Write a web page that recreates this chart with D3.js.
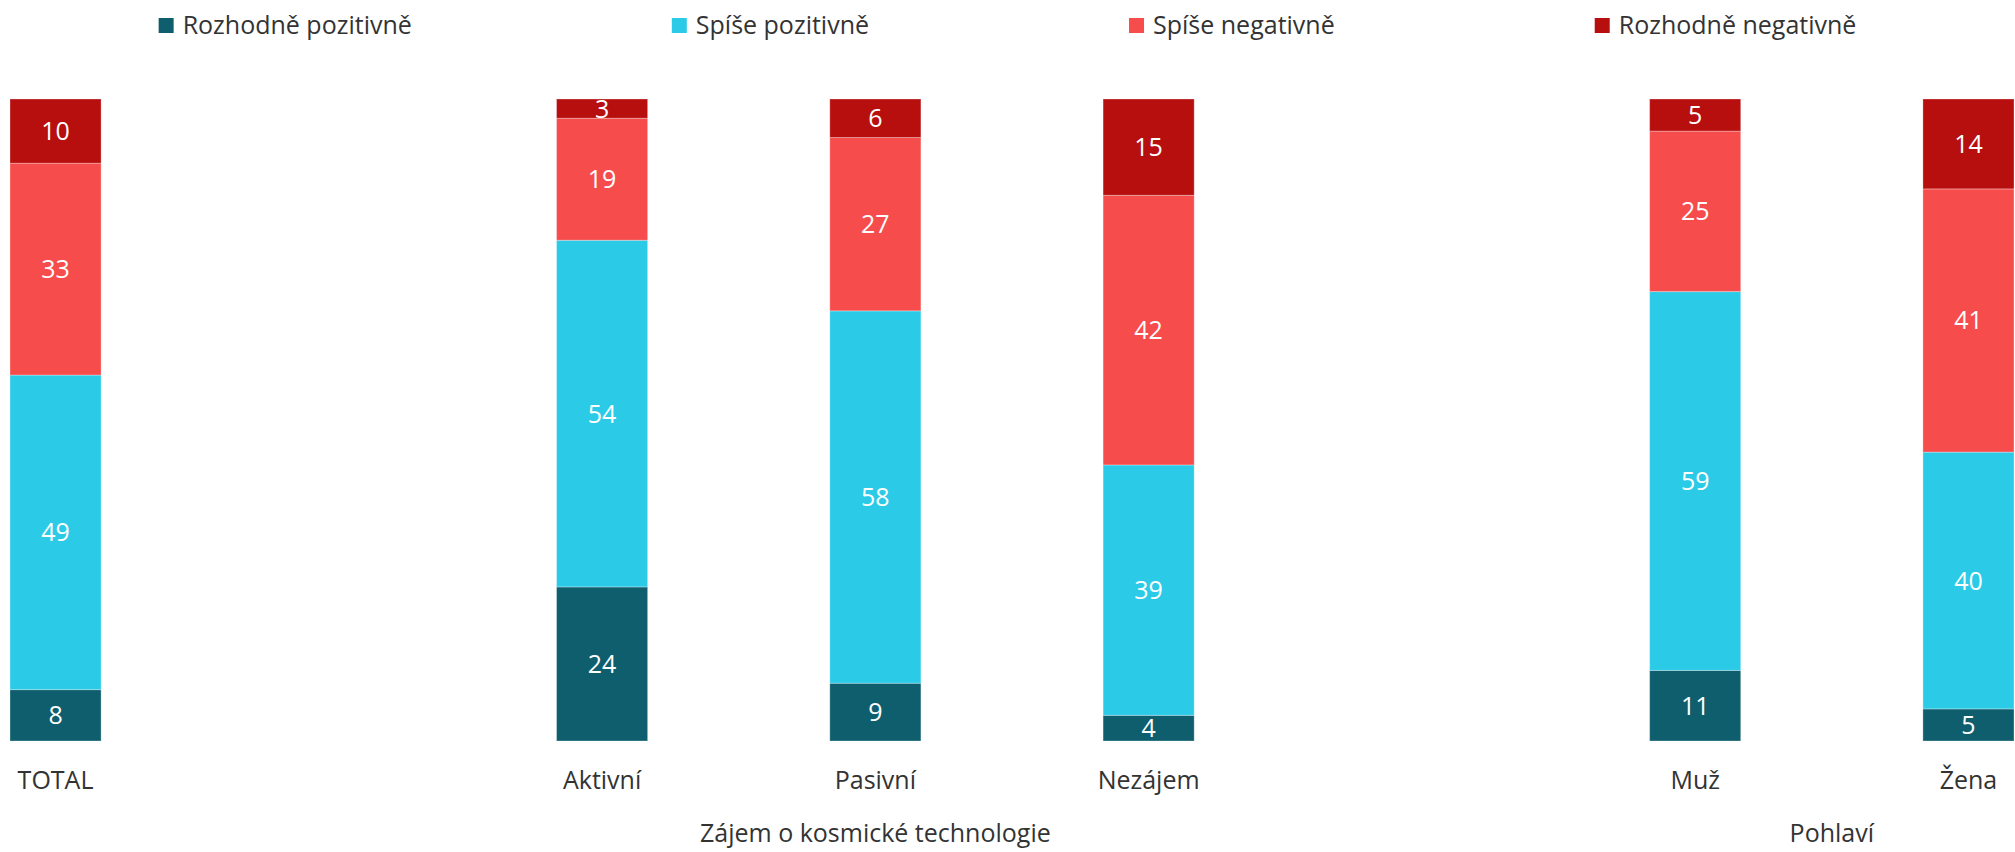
<!DOCTYPE html>
<html>
<head>
<meta charset="utf-8">
<script src="https://cdn.jsdelivr.net/npm/d3@7"></script>
<style>
  body { margin: 0; background: #fff; }
  text { font-family: "Open Sans", "Noto Sans", sans-serif; }
</style>
</head>
<body>
<div id="chart"></div>
<script>
// slots along the x axis, the gap entries are spacers between groups
const slots = ["TOTAL", "gap1", "Aktivní", "Pasivní", "Nezájem", "gap2", "Muž", "Žena"];
const categories = ["TOTAL", "Aktivní", "Pasivní", "Nezájem", "Muž", "Žena"];

const seriesNames = ["Rozhodně pozitivně", "Spíše pozitivně", "Spíše negativně", "Rozhodně negativně"];
const seriesColors = ["#0e5e6e", "#2bcbe8", "#f74c4c", "#b70e0e"];

const rozhodnePozitivne = [8, 24, 9, 4, 11, 5];
const spisePozitivne = [49, 54, 58, 39, 59, 40];
const spiseNegativne = [33, 19, 27, 42, 25, 41];
const rozhodneNegativne = [10, 3, 6, 15, 5, 14];

const groups = [
  { label: "Zájem o kosmické technologie", members: ["Aktivní", "Pasivní", "Nezájem"] },
  { label: "Pohlaví", members: ["Muž", "Žena"] },
];

const size = { width: 2015, height: 852 };
const fontSize = 25;

const svg = d3.select("#chart").append("svg")
  .attr("width", size.width)
  .attr("height", size.height);

const rows = categories.map((c, i) => ({
  cat: c,
  "Rozhodně pozitivně": rozhodnePozitivne[i],
  "Spíše pozitivně": spisePozitivne[i],
  "Spíše negativně": spiseNegativne[i],
  "Rozhodně negativně": rozhodneNegativne[i],
}));

const stacked = d3.stack().keys(seriesNames)(rows);

const x = d3.scaleBand()
  .domain(slots)
  .range([10, 2014])
  .paddingInner(2 / 3)
  .paddingOuter(0);

const y = d3.scaleLinear().domain([0, 100]).range([741, 99]);

const color = d3.scaleOrdinal().domain(seriesNames).range(seriesColors);

// bars
const layers = svg.append("g").selectAll("g")
  .data(stacked)
  .join("g")
  .attr("fill", (d) => color(d.key));

layers.selectAll("rect")
  .data((d) => d)
  .join("rect")
  .attr("x", (d) => x(d.data.cat))
  .attr("width", x.bandwidth())
  .attr("y", (d) => y(d[1]))
  .attr("height", (d) => y(d[0]) - y(d[1]))
  .attr("stroke", "rgba(255,255,255,0.3)")
  .attr("stroke-width", 1);

// value labels
layers.selectAll("text")
  .data((d) => d)
  .join("text")
  .attr("x", (d) => x(d.data.cat) + x.bandwidth() / 2)
  .attr("y", (d) => (y(d[0]) + y(d[1])) / 2)
  .attr("dy", "0.36em")
  .attr("text-anchor", "middle")
  .attr("fill", "white")
  .style("font-size", fontSize + "px")
  .text((d) => d[1] - d[0]);

// category labels
svg.append("g").selectAll("text")
  .data(categories)
  .join("text")
  .attr("x", (d) => x(d) + x.bandwidth() / 2)
  .attr("y", 780)
  .attr("dy", "0.36em")
  .attr("text-anchor", "middle")
  .attr("fill", "#333")
  .style("font-size", fontSize + "px")
  .text((d) => d);

// group labels under the categories
svg.append("g").selectAll("text")
  .data(groups)
  .join("text")
  .attr("x", (g) => d3.mean(g.members, (m) => x(m) + x.bandwidth() / 2))
  .attr("y", 842)
  .attr("text-anchor", "middle")
  .attr("fill", "#333")
  .style("font-size", fontSize + "px")
  .text((g) => g.label);

// legend, centred with a fixed gap between items
const legend = svg.append("g");
const items = legend.selectAll("g").data(seriesNames).join("g");
items.append("rect")
  .attr("width", 15)
  .attr("height", 15)
  .attr("y", 18)
  .attr("fill", (d) => color(d));
items.append("text")
  .attr("x", 24)
  .attr("y", 25)
  .attr("dy", "0.36em")
  .attr("fill", "#333")
  .style("font-size", fontSize + "px")
  .text((d) => d);

const gap = 260;
const widths = [];
items.each(function () {
  widths.push(24 + d3.select(this).select("text").node().getComputedTextLength());
});
const total = d3.sum(widths) + gap * (widths.length - 1);
let cursor = (size.width - total) / 2;
items.attr("transform", (d, i) => {
  const t = `translate(${cursor},0)`;
  cursor += widths[i] + gap;
  return t;
});
</script>
</body>
</html>
